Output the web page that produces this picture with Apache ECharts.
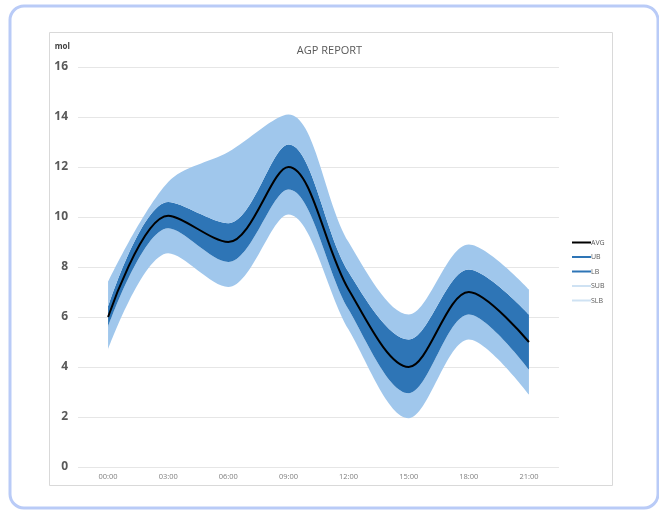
<!DOCTYPE html>
<html>
<head>
<meta charset="utf-8">
<script src="https://cdn.jsdelivr.net/npm/echarts@6/dist/echarts.min.js"></script>
<style>
  html, body { margin: 0; padding: 0; background: #fff; }
  #agp-chart { width: 659px; height: 511px; }
</style>
</head>
<body>
<div id="agp-chart"></div>
<script>
var hours = ['00:00', '03:00', '06:00', '09:00', '12:00', '15:00', '18:00', '21:00'];
var avg = [6, 10.05, 9, 12, 7.1, 4, 7, 5];
var ub  = [6.4, 10.6, 9.75, 12.9, 7.8, 5.1, 7.9, 6.1];
var lb  = [5.6, 9.55, 8.2, 11.1, 6.3, 2.95, 6.1, 3.9];
var sub = [7.4, 11.4, 12.6, 14.1, 9.0, 6.1, 8.9, 7.1];
var slb = [4.7, 8.55, 7.2, 10.1, 5.5, 1.95, 5.1, 2.9];
var yTicks = [0, 2, 4, 6, 8, 10, 12, 14, 16];

(function () {
    var dark = '#2e75b6';
    var light = '#a0c7ec';
    var pale = '#cfe2f3';
    var curve = 0.33;

    // band thickness between two curves, used for stacking
    function diff(hi, lo) {
        var out = [];
        for (var i = 0; i < hi.length; i++) {
            out.push(+(hi[i] - lo[i]).toFixed(3));
        }
        return out;
    }

    var myChart = echarts.init(document.getElementById('agp-chart'));
    var option = {
        animation: false,
        textStyle: { fontFamily: 'Open Sans' },
        graphic: [
            {
                type: 'rect', z: -10,
                shape: { x: 10, y: 6, width: 648, height: 502, r: 14 },
                style: { fill: '#fff', stroke: '#b9cbf7', lineWidth: 3 }
            },
            {
                type: 'rect', z: -9,
                shape: { x: 49.5, y: 32.5, width: 563, height: 453 },
                style: { fill: '#fff', stroke: '#d9d9d9', lineWidth: 1 }
            }
        ],
        title: {
            text: 'AGP REPORT',
            left: 'center',
            top: 40,
            textStyle: { fontSize: 11, fontWeight: 'normal', color: '#595959', fontFamily: 'Open Sans' }
        },
        legend: {
            orient: 'vertical',
            left: 567,
            top: 234,
            icon: 'rect',
            itemWidth: 19,
            itemHeight: 2,
            itemGap: 7.5,
            textStyle: { fontSize: 7, color: '#595959', padding: [0, 0, 0, -5] },
            data: [
                { name: 'AVG', itemStyle: { color: '#000' } },
                { name: 'UB', itemStyle: { color: dark } },
                { name: 'LB', itemStyle: { color: dark } },
                { name: 'SUB', itemStyle: { color: pale } },
                { name: 'SLB', itemStyle: { color: pale } }
            ]
        },
        grid: { left: 78, right: 100, top: 67, bottom: 44 },
        xAxis: {
            type: 'category',
            data: hours,
            boundaryGap: true,
            axisLine: { show: false },
            axisTick: { show: false },
            axisLabel: { fontSize: 7.5, color: '#7f7f7f', margin: 6 }
        },
        yAxis: {
            type: 'value',
            min: yTicks[0],
            max: yTicks[yTicks.length - 1],
            interval: 2,
            name: 'mol',
            nameGap: 16,
            nameTextStyle: { fontSize: 8, fontWeight: 'bold', color: '#404040', align: 'right', padding: [0, 8, 0, 0] },
            axisLabel: { fontSize: 12, fontWeight: 'bold', color: '#595959', margin: 10 },
            splitLine: { lineStyle: { color: '#e6e6e6', width: 1 } }
        },
        series: [
            {
                name: 'SLB', type: 'line', stack: 'band', smooth: curve, symbol: 'none',
                color: pale,
                lineStyle: { width: 0, opacity: 0 },
                data: slb
            },
            {
                name: 'LB', type: 'line', stack: 'band', smooth: curve, symbol: 'none',
                color: dark,
                lineStyle: { width: 0, opacity: 0 },
                areaStyle: { color: light, opacity: 1 },
                data: diff(lb, slb)
            },
            {
                name: 'UB', type: 'line', stack: 'band', smooth: curve, symbol: 'none',
                color: dark,
                lineStyle: { width: 0, opacity: 0 },
                areaStyle: { color: dark, opacity: 1 },
                data: diff(ub, lb)
            },
            {
                name: 'SUB', type: 'line', stack: 'band', smooth: curve, symbol: 'none',
                color: pale,
                lineStyle: { width: 0, opacity: 0 },
                areaStyle: { color: light, opacity: 1 },
                data: diff(sub, ub)
            },
            {
                name: 'AVG', type: 'line', smooth: curve, symbol: 'none',
                color: '#000',
                lineStyle: { width: 2, color: '#000' },
                data: avg
            }
        ]
    };
    myChart.setOption(option);
})();
</script>
</body>
</html>
